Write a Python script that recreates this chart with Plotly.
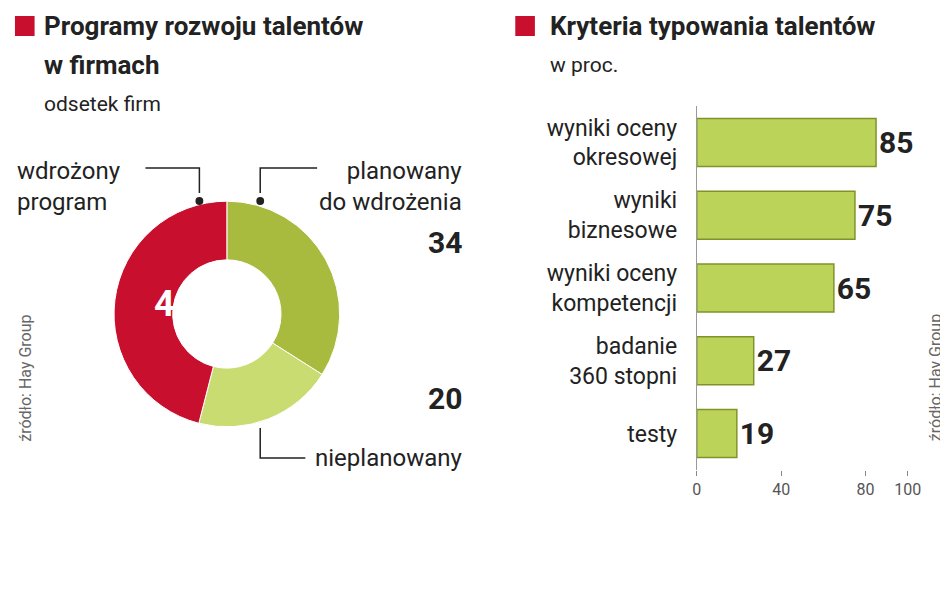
import plotly.graph_objects as go

pie_labels = ["planowany do wdrożenia", "nieplanowany", "wdrożony program"]
pie_values = [34, 20, 46]
pie_colors = ["#a9bb3e", "#c9dc72", "#c8102e"]

bar_cats = ["wyniki oceny<br>okresowej", "wyniki<br>biznesowe", "wyniki oceny<br>kompetencji", "badanie<br>360 stopni", "testy"]
bar_vals = [85, 75, 65, 27, 19]
ticks = [0, 40, 80, 100]

F = "Roboto"
fig = go.Figure()
fig.add_trace(go.Pie(values=pie_values, labels=pie_labels, hole=0.48, sort=False,
                     direction="clockwise", rotation=0,
                     marker=dict(colors=pie_colors, line=dict(color="white", width=1)),
                     textinfo="none", hoverinfo="label+value", showlegend=False,
                     domain=dict(x=[103/948, 333/948], y=[1-421/593, 1-191/593])))
fig.add_trace(go.Bar(x=bar_vals, y=bar_cats, orientation="h", width=0.66,
                     marker=dict(color="#bcd35a", line=dict(color="#7f9428", width=1.5)),
                     text=[f"<b>{v}</b>" for v in bar_vals], textposition="outside",
                     textfont=dict(size=30, color="#222", family=F), cliponaxis=False,
                     showlegend=False))
fig.update_layout(
    width=948, height=593, margin=dict(l=0, r=0, t=0, b=0),
    paper_bgcolor="white", plot_bgcolor="white", font=dict(family=F, color="#222"),
    bargap=0.3,
    xaxis=dict(domain=[697/948, 912/948], range=[0, 100], tickvals=ticks,
               ticktext=[str(t) for t in ticks], showgrid=False, zeroline=False,
               showline=False, tickfont=dict(size=16, color="#555"), ticks="outside",
               tickcolor="#888", ticklen=5),
    yaxis=dict(domain=[1-462/593, 1-98/593], autorange="reversed", showgrid=False,
               tickfont=dict(size=23, color="#222"), ticks="", ticklabelstandoff=14,
               showline=True, linecolor="#999", linewidth=1),
)
shapes = [
    dict(type="rect", xref="paper", yref="paper", x0=2/948, x1=22/948, y0=1-28/593, y1=1-8/593, fillcolor="#c8102e", line_width=0),
    dict(type="rect", xref="paper", yref="paper", x0=512/948, x1=532/948, y0=1-28/593, y1=1-8/593, fillcolor="#c8102e", line_width=0),
    dict(type="path", xref="paper", yref="paper", path=f"M {135/948} {1-160/593} L {190/948} {1-160/593} L {190/948} {1-185/593}", line=dict(color="#222", width=1.5)),
    dict(type="path", xref="paper", yref="paper", path=f"M {310/948} {1-160/593} L {252/948} {1-160/593} L {252/948} {1-185/593}", line=dict(color="#222", width=1.5)),
    dict(type="path", xref="paper", yref="paper", path=f"M {252/948} {1-420/593} L {252/948} {1-450/593} L {298/948} {1-450/593}", line=dict(color="#222", width=1.5)),
    dict(type="circle", xref="paper", yref="paper", x0=186/948, x1=194/948, y0=1-197/593, y1=1-189/593, fillcolor="#222", line_width=0),
    dict(type="circle", xref="paper", yref="paper", x0=248/948, x1=256/948, y0=1-197/593, y1=1-189/593, fillcolor="#222", line_width=0),
]
fig.update_layout(shapes=shapes)

def ann(x, y, t, size, anchor="left", bold=False, color="#222", angle=0):
    fig.add_annotation(xref="paper", yref="paper", x=x/948, y=1-y/593, text=f"<b>{t}</b>" if bold else t,
                       showarrow=False, xanchor=anchor, yanchor="middle", align=anchor if anchor != "center" else "center",
                       font=dict(size=size, color=color, family=F), textangle=angle)

ann(30, 18, "Programy rozwoju talentów", 26, bold=True)
ann(30, 57, "w firmach", 26, bold=True)
ann(30, 96, "odsetek firm", 21)
ann(545, 18, "Kryteria typowania talentów", 26, bold=True)
ann(545, 57, "w proc.", 21)
ann(2, 178, "wdrożony<br>program", 24)
ann(460, 178, "planowany<br>do wdrożenia", 24, anchor="right")
ann(460, 235, "34", 30, anchor="right", bold=True)
ann(460, 390, "20", 30, anchor="right", bold=True)
ann(460, 450, "nieplanowany", 24, anchor="right")
ann(165, 296, "46", 36, anchor="center", bold=True, color="white")
ann(12, 370, "źródło: Hay Group", 16, anchor="center", color="#666", angle=-90)
ann(940, 370, "źródło: Hay Group", 16, anchor="center", color="#666", angle=-90)

fig.write_html("out.html")
